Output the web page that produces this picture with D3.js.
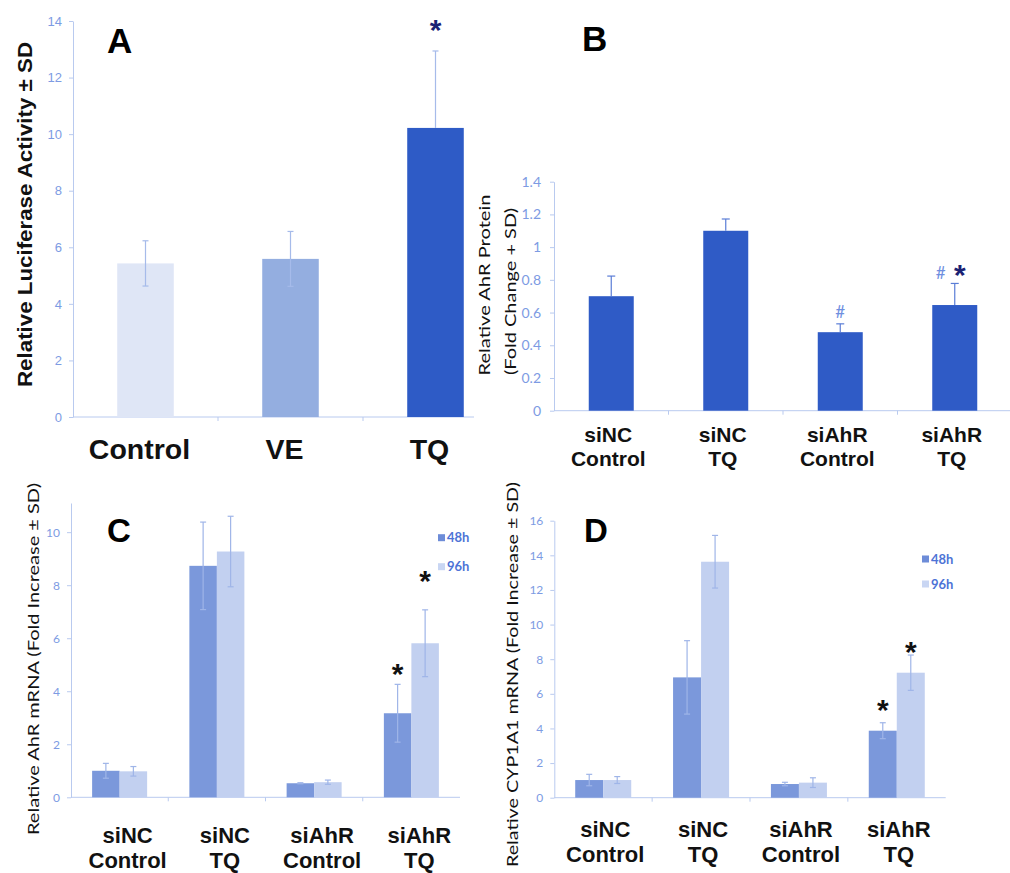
<!DOCTYPE html>
<html lang="en">
<head>
<meta charset="UTF-8">
<script src="https://d3js.org/d3.v7.min.js"></script>
<style>
  body { margin: 0; background: #fff; }
  #plot { position: absolute; width: 1010px; height: 873px; }
</style>
</head>
<body>
<div id="plot"></div>
<script>
// ---- data ----
// panel A: luciferase reporter
const aGroups = ["Control", "VE", "TQ"];
const aMean = [5.43, 5.59, 10.22];
const aSD = [0.80, 0.97, 2.72];
const aSig = ["", "", "*"];
const aTicks = [0, 2, 4, 6, 8, 10, 12, 14];

// panel B: AhR protein
const bGroups = ["siNC Control", "siNC TQ", "siAhR Control", "siAhR TQ"];
const bMean = [0.70, 1.10, 0.48, 0.646];
const bSD = [0.123, 0.072, 0.051, 0.132];
const bHash = ["", "", "#", "#"];
const bSig = ["", "", "", "*"];
const bTicks = [0, 0.2, 0.4, 0.6, 0.8, 1, 1.2, 1.4];

// panels C and D: mRNA at two time points
const series = ["48h", "96h"];
const cMean48 = [1.00, 8.73, 0.53, 3.17];
const cSD48 = [0.28, 1.65, 0.02, 1.09];
const cMean96 = [0.98, 9.27, 0.57, 5.81];
const cSD96 = [0.18, 1.33, 0.08, 1.26];
const cSig48 = ["", "", "", "*"];
const cSig96 = ["", "", "", "*"];
const cTicks = [0, 2, 4, 6, 8, 10];

const dMean48 = [1.02, 6.95, 0.79, 3.87];
const dSD48 = [0.33, 2.12, 0.10, 0.46];
const dMean96 = [1.02, 13.63, 0.87, 7.22];
const dSD96 = [0.20, 1.52, 0.28, 1.02];
const dSig48 = ["", "", "", "*"];
const dSig96 = ["", "", "", "*"];
const dTicks = [0, 2, 4, 6, 8, 10, 12, 14, 16];

// ---- styles ----
const axisColor = "#b9caef";
const tickColor = "#7d9be3";
const errColor = "#9fb5e8";
const aColors = ["#dfe6f6", "#94aee0", "#2e5bc6"];
const bColor = "#2f5bc6";
const seriesColors = ["#7b98db", "#c2d0f0"];
const legendText = "#4d73d6";
const arial = "'Liberation Sans', Arial, sans-serif";
const calib = "Lato, 'Open Sans', sans-serif";

const svg = d3.select("#plot").append("svg")
    .attr("width", 1010)
    .attr("height", 873);

function yAxis(y, x0, ticks, font, size, pad, fmt) {
  const g = svg.append("g")
    .attr("transform", `translate(${x0},0)`)
    .call(d3.axisLeft(y).tickValues(ticks).tickSize(4).tickSizeOuter(0).tickPadding(pad).tickFormat(fmt || d3.format("")));
  g.select(".domain").attr("stroke", axisColor);
  g.selectAll(".tick line").attr("stroke", axisColor);
  g.selectAll(".tick text").attr("fill", tickColor).style("font-family", font).style("font-size", size + "px");
}

function xBase(x, y0, xEnd) {
  svg.append("line").attr("x1", x.range()[0]).attr("x2", xEnd)
    .attr("y1", y0).attr("y2", y0).attr("stroke", axisColor);
  x.domain().slice(1).forEach(d => {
    svg.append("line").attr("x1", x(d)).attr("x2", x(d))
      .attr("y1", y0).attr("y2", y0 + 4).attr("stroke", axisColor);
  });
}

function errBar(cx, yTop, yBot, color, cap) {
  svg.append("line").attr("x1", cx).attr("x2", cx).attr("y1", yTop).attr("y2", yBot)
    .attr("stroke", color).attr("stroke-width", 1.2);
  svg.append("line").attr("x1", cx - cap).attr("x2", cx + cap).attr("y1", yTop).attr("y2", yTop)
    .attr("stroke", color).attr("stroke-width", 1.2);
}

function yTitle(txt, x, yc, len, font, size, weight) {
  svg.append("text")
    .attr("transform", `translate(${x},${yc}) rotate(-90)`)
    .attr("text-anchor", "middle")
    .attr("dy", "0.35em")
    .attr("textLength", len)
    .attr("lengthAdjust", "spacingAndGlyphs")
    .style("font-family", font)
    .style("font-size", size + "px")
    .style("font-weight", weight)
    .attr("fill", "#111")
    .text(txt);
}

function panelLetter(t, x, y, size) {
  svg.append("text").attr("x", x).attr("y", y)
    .style("font-family", arial).style("font-weight", "bold").style("font-size", size + "px")
    .attr("fill", "#000").text(t);
}

function star(cx, cy, color, size, font) {
  svg.append("text").attr("x", cx).attr("y", cy + size * 0.57)
    .attr("text-anchor", "middle")
    .style("font-family", font || arial).style("font-size", size + "px")
    .style("font-weight", "bold")
    .attr("fill", color).text("*");
}

// two-line category label, one text element with two tspans
function twoLineLabels(x, groups, y1, y2, size, shift) {
  groups.forEach(d => {
    const parts = d.split(" ");
    const cx = x(d) + x.bandwidth() / 2 + shift;
    const t = svg.append("text").attr("text-anchor", "middle")
      .style("font-family", arial).style("font-weight", "bold").style("font-size", size + "px")
      .attr("fill", "#111");
    t.append("tspan").attr("x", cx).attr("y", y1).text(parts[0]);
    t.append("tspan").attr("x", cx).attr("y", y2).text(parts[1]);
  });
}

// ---- panel A ----
{
  const y = d3.scaleLinear().domain([0, 14]).range([417, 21]);
  const x = d3.scaleBand().domain(aGroups).range([73, 508]);
  const bw = x.bandwidth() * 0.39;
  yAxis(y, 73, aTicks, arial, 13, 7);
  xBase(x, 417, 474);
  aGroups.forEach((g, i) => {
    const cx = x(g) + x.bandwidth() / 2;
    svg.append("rect").attr("x", cx - bw / 2).attr("y", y(aMean[i]))
      .attr("width", bw).attr("height", y(0) - y(aMean[i]))
      .attr("fill", aColors[i]);
    const bottom = i < 2 ? y(aMean[i] - aSD[i]) : y(aMean[i]);
    errBar(cx, y(aMean[i] + aSD[i]), bottom, "#a6bbea", 3);
    if (i < 2) {
      svg.append("line").attr("x1", cx - 3).attr("x2", cx + 3).attr("y1", bottom).attr("y2", bottom)
        .attr("stroke", "#a6bbea").attr("stroke-width", 1.2);
    }
    if (aSig[i]) star(cx, y(aMean[i] + aSD[i]) - 28, "#1b2273", 30);
    svg.append("text").attr("x", cx - 6).attr("y", 459)
      .attr("text-anchor", "middle")
      .style("font-family", arial).style("font-weight", "bold").style("font-size", "28.5px")
      .attr("fill", "#111").text(g);
  });
  yTitle("Relative Luciferase Activity \u00b1 SD", 25, 214.5, 345, arial, 21, "bold");
  panelLetter("A", 107, 53, 35);
}

// ---- panel B ----
{
  const y = d3.scaleLinear().domain([0, 1.4]).range([410.7, 181.7]);
  const x = d3.scaleBand().domain(bGroups).range([554, 1012]);
  const bw = x.bandwidth() * 0.393;
  yAxis(y, 554, bTicks, calib, 14, 9, d3.format(""));
  xBase(x, 410.7, 1010);
  bGroups.forEach((g, i) => {
    const cx = x(g) + x.bandwidth() / 2;
    svg.append("rect").attr("x", cx - bw / 2).attr("y", y(bMean[i]))
      .attr("width", bw).attr("height", y(0) - y(bMean[i]))
      .attr("fill", bColor);
    errBar(cx, y(bMean[i] + bSD[i]), y(bMean[i]), "#5a7dd6", 4);
    if (bHash[i]) {
      const hx = i === 3 ? cx - 14 : cx;
      const hy = y(bMean[i] + bSD[i]) - (i === 3 ? 10 : 12);
      svg.append("text").attr("x", hx).attr("y", hy + 6)
        .attr("text-anchor", "middle")
        .style("font-family", calib).style("font-size", "17px")
        .attr("fill", "#6f8fdf").text(bHash[i]);
    }
    if (bSig[i]) star(cx + 5, y(bMean[i] + bSD[i]) - 16, "#1b2273", 30);
  });
  twoLineLabels(x, bGroups, 441.5, 465.5, 21, -3);
  svg.append("text")
    .attr("transform", "translate(485,285) rotate(-90)")
    .attr("text-anchor", "middle").attr("dy", "0.35em")
    .attr("textLength", 181).attr("lengthAdjust", "spacingAndGlyphs")
    .style("font-family", calib).style("font-size", "15px").attr("fill", "#111")
    .text("Relative AhR  Protein");
  svg.append("text")
    .attr("transform", "translate(511,291.5) rotate(-90)")
    .attr("text-anchor", "middle").attr("dy", "0.35em")
    .attr("textLength", 167).attr("lengthAdjust", "spacingAndGlyphs")
    .style("font-family", calib).style("font-size", "15px").attr("fill", "#111")
    .text("(Fold Change + SD)");
  panelLetter("B", 582, 51, 35);
}

// ---- panels C and D ----
function groupedPanel(opt) {
  const y = d3.scaleLinear().domain(opt.domain).range(opt.yRange);
  const x = d3.scaleBand().domain(bGroups).range(opt.xRange);
  const xs = d3.scaleBand().domain(series).range([0, x.bandwidth()]).paddingOuter(opt.po);
  yAxis(y, opt.xRange[0], opt.ticks, calib, 12, 7);
  xBase(x, y(0), opt.xEnd);
  const means = [opt.m48, opt.m96], sds = [opt.s48, opt.s96], sigs = [opt.g48, opt.g96];
  series.forEach((s, k) => {
    bGroups.forEach((g, i) => {
      const x0 = x(g) + xs(s);
      const cx = x0 + xs.bandwidth() / 2;
      const m = means[k][i], sd = sds[k][i];
      svg.append("rect").attr("x", x0).attr("y", y(m))
        .attr("width", xs.bandwidth()).attr("height", y(0) - y(m))
        .attr("fill", seriesColors[k]);
      errBar(cx, y(m + sd), y(m - sd), errColor, 3);
      svg.append("line").attr("x1", cx - 3).attr("x2", cx + 3).attr("y1", y(m - sd)).attr("y2", y(m - sd))
        .attr("stroke", errColor).attr("stroke-width", 1.2);
      if (sigs[k][i]) star(cx, y(m + sd) - opt.starGap[k], "#111", 30, arial);
    });
  });
  // legend
  series.forEach((s, k) => {
    const ly = opt.legend[1] + k * opt.legendStep;
    svg.append("rect").attr("x", opt.legend[0]).attr("y", ly - 3.5)
      .attr("width", 7).attr("height", 7).attr("fill", k === 0 ? "#6d8cd8" : "#c9d6f3");
    svg.append("text").attr("x", opt.legend[0] + 9).attr("y", ly).attr("dy", "0.35em")
      .style("font-family", calib).style("font-weight", "bold").style("font-size", "13px")
      .attr("fill", legendText).text(s);
  });
  twoLineLabels(x, bGroups, opt.labelY[0], opt.labelY[1], 22, opt.labelShift);
  yTitle(opt.title, opt.titleX, opt.titleY, opt.titleLen, calib, 16, "normal");
  panelLetter(opt.letter, opt.letterPos[0], opt.letterPos[1], 33);
}

groupedPanel({
  domain: [0, 11.1], yRange: [797.3, 503], xRange: [71, 460], xEnd: 460, po: 0.768,
  ticks: cTicks, m48: cMean48, s48: cSD48, m96: cMean96, s96: cSD96, g48: cSig48, g96: cSig96,
  starGap: [17, 36], legend: [438, 537.7], legendStep: 29,
  labelY: [843, 868], labelShift: 8,
  title: "Relative AhR  mRNA  (Fold Increase \u00b1 SD)", titleX: 33, titleY: 659, titleLen: 352,
  letter: "C", letterPos: [107, 542]
});

groupedPanel({
  domain: [0, 16], yRange: [797.7, 520.7], xRange: [554.3, 945.7], xEnd: 945.7, po: 0.747,
  ticks: dTicks, m48: dMean48, s48: dSD48, m96: dMean96, s96: dSD96, g48: dSig48, g96: dSig96,
  starGap: [20, 10], legend: [922, 559], legendStep: 25,
  labelY: [837, 862], labelShift: 2,
  title: "Relative CYP1A1 mRNA  (Fold Increase \u00b1 SD)", titleX: 512, titleY: 674.5, titleLen: 385,
  letter: "D", letterPos: [584, 542]
});
</script>
</body>
</html>
